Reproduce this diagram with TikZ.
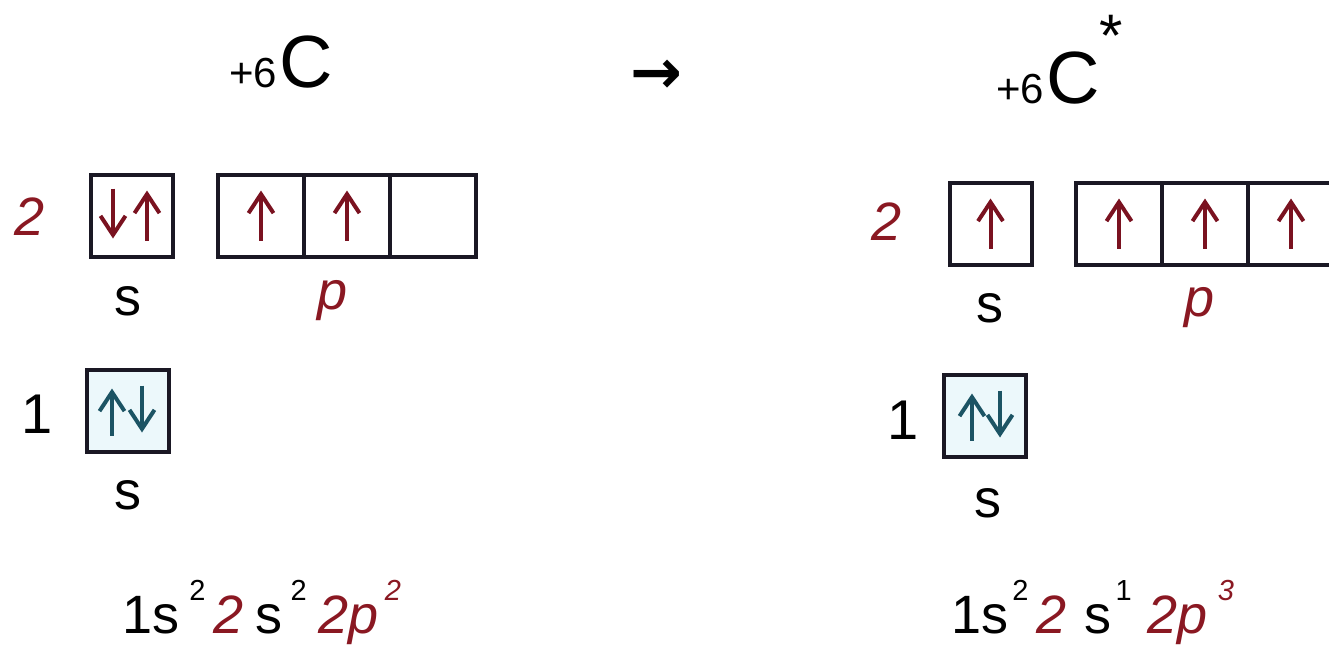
\documentclass[tikz,border=0pt]{standalone}
\usepackage{fontspec}
\setmainfont{Liberation Sans}
\newfontfamily\arrowfont{DejaVu Sans}
\usetikzlibrary{arrows.meta,calc}
\definecolor{ered}{RGB}{138,24,34}
\definecolor{spinred}{RGB}{122,18,32}
\definecolor{spinteal}{RGB}{28,84,100}
\definecolor{boxline}{RGB}{26,24,36}
\definecolor{coreFill}{RGB}{236,248,251}

\newcommand\fs[1]{\fontsize{#1}{#1}\selectfont}
\newcommand\cfgsup[1]{\raisebox{16.5pt}{\fs{14.5}#1}}

\begin{document}
\begin{tikzpicture}[x=0.5pt,y=-0.5pt,
  orb/.style={draw=boxline,line width=2pt,minimum width=41pt,minimum height=41pt,inner sep=0pt},
  pbox/.style={orb,minimum width=43pt},
  core/.style={orb,fill=coreFill},
  lbl/.style={inner sep=0pt,font={\fs{27}}},
  redlbl/.style={inner sep=0pt,text=ered,font={\fs{27}\itshape}},
  spin/.style={line width=2pt,-{Straight Barb[length=9.5pt,width=12.5pt]}},
  cfg/.style={inner sep=0pt,anchor=base west,font={\fs{27}}}
]
\clip (0,0) rectangle (1329,653);
\fill[white] (0,0) rectangle (1329,653);

% ---------- ground state ----------
\node[inner sep=0pt,anchor=base west] (ttl) at (229,87) {{\fs{21}+6}\hspace{1pt}{\fs{37}C}};

\node[redlbl] (l2) at (30,217) {2};
\node[orb] (l2s) at (132,215.5) {};
\node[pbox] (l2px) at (261,215.5) {};
\node[pbox] (l2py) at (347,215.5) {};
\node[pbox] (l2pz) at (433,215.5) {};
\node[lbl] (l2sl) at (128,301) {s};
\node[redlbl] (l2pl) at (333,301) {p};

\draw[spin,spinred] ($(l2s)+(-19,-27)$) -- ($(l2s)+(-19,23)$);
\draw[spin,spinred] ($(l2s)+(15,25)$) -- ($(l2s)+(15,-25)$);
\draw[spin,spinred] ($(l2px)+(0,25)$) -- ($(l2px)+(0,-25)$);
\draw[spin,spinred] ($(l2py)+(0,25)$) -- ($(l2py)+(0,-25)$);

\node[lbl,font={\fs{28}}] (l1) at (37,414) {1};
\node[core] (l1s) at (128,410.5) {};
\node[lbl] (l1sl) at (128,495) {s};
\draw[spin,spinteal] ($(l1s)+(-16,25)$) -- ($(l1s)+(-16,-22)$);
\draw[spin,spinteal] ($(l1s)+(14,-25)$) -- ($(l1s)+(14,22)$);

\node[cfg] (lcfg) at (122,633) {1s\hspace{5pt}\cfgsup{2}\hspace{4pt}\textcolor{ered}{\itshape 2}\hspace{6pt}s\hspace{4pt}\cfgsup{2}\hspace{6pt}\textcolor{ered}{\itshape 2p\hspace{3pt}\cfgsup{2}}};

% ---------- transition ----------
\node[inner sep=0pt,font={\arrowfont\bfseries\fs{31}}] (arr) at (656,77) {→};

% ---------- excited state ----------
\node[inner sep=0pt,anchor=base west] (ttr) at (996,103) {{\fs{21}+6}\hspace{1pt}{\fs{37}C}};
\node[inner sep=0pt,anchor=base,font={\fs{30}}] (star) at (1111,56) {*};

\node[redlbl] (r2) at (887,222) {2};
\node[orb] (r2s) at (990.5,223.5) {};
\node[pbox] (r2px) at (1119,223.5) {};
\node[pbox] (r2py) at (1205,223.5) {};
\node[pbox] (r2pz) at (1291,223.5) {};
\node[lbl] (r2sl) at (990,308) {s};
\node[redlbl] (r2pl) at (1200,308) {p};

\draw[spin,spinred] ($(r2s)+(0,25)$) -- ($(r2s)+(0,-25)$);
\draw[spin,spinred] ($(r2px)+(0,25)$) -- ($(r2px)+(0,-25)$);
\draw[spin,spinred] ($(r2py)+(0,25)$) -- ($(r2py)+(0,-25)$);
\draw[spin,spinred] ($(r2pz)+(0,25)$) -- ($(r2pz)+(0,-25)$);

\node[lbl,font={\fs{28}}] (r1) at (903,420) {1};
\node[core] (r1s) at (985,415.5) {};
\node[lbl] (r1sl) at (988,503) {s};
\draw[spin,spinteal] ($(r1s)+(-13,25)$) -- ($(r1s)+(-13,-22)$);
\draw[spin,spinteal] ($(r1s)+(15,-25)$) -- ($(r1s)+(15,22)$);

\node[cfg] (rcfg) at (951,633) {1s\hspace{2pt}\cfgsup{2}\hspace{4pt}\textcolor{ered}{\itshape 2}\hspace{9pt}s\hspace{2pt}\cfgsup{1}\hspace{8pt}\textcolor{ered}{\itshape 2p\hspace{5pt}\cfgsup{3}}};
\end{tikzpicture}
\end{document}
